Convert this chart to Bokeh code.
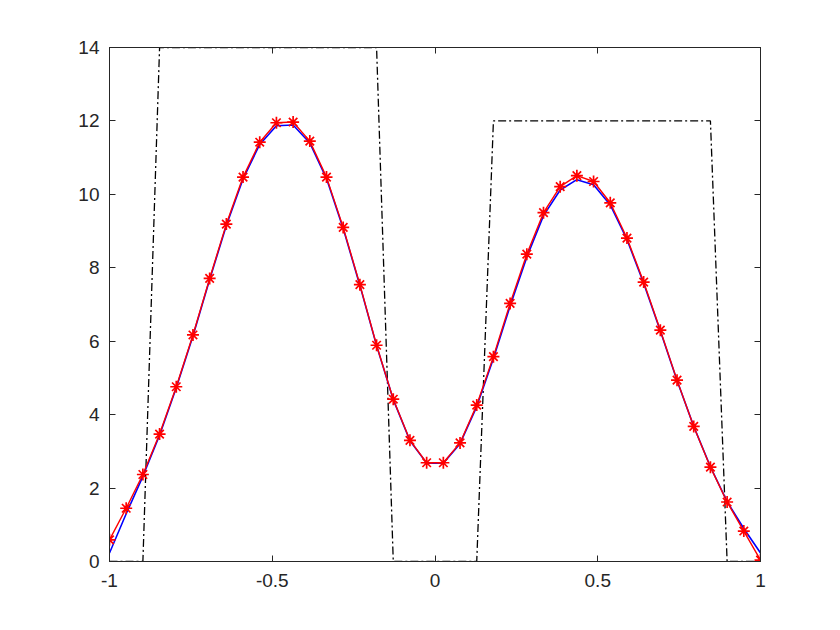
import numpy as np
from bokeh.plotting import figure
from bokeh.models import Range1d, LinearAxis, FixedTicker
from bokeh.embed import file_html
from bokeh.resources import INLINE

# sample grid (40 evenly spaced points on [-1, 1])
x = np.linspace(-1, 1, 40)

estimate = [0.59, 1.45, 2.37, 3.47, 4.76, 6.17, 7.71, 9.19, 10.47, 11.42,
            11.95, 11.97, 11.45, 10.47, 9.10, 7.54, 5.89, 4.42, 3.30, 2.69,
            2.69, 3.23, 4.26, 5.58, 7.03, 8.37, 9.50, 10.21, 10.51, 10.35,
            9.77, 8.81, 7.61, 6.30, 4.94, 3.68, 2.57, 1.62, 0.83, 0.04]

reference = [0.23, 1.30, 2.32, 3.44, 4.73, 6.14, 7.68, 9.15, 10.42, 11.36,
             11.87, 11.89, 11.40, 10.43, 9.07, 7.52, 5.88, 4.41, 3.29, 2.68,
             2.68, 3.21, 4.22, 5.53, 6.96, 8.29, 9.42, 10.12, 10.40, 10.26,
             9.71, 8.77, 7.58, 6.28, 4.93, 3.68, 2.58, 1.63, 0.90, 0.23]

step = [0, 0, 0, 14, 14, 14, 14, 14, 14, 14,
        14, 14, 14, 14, 14, 14, 14, 0, 0, 0,
        0, 0, 0, 12, 12, 12, 12, 12, 12, 12,
        12, 12, 12, 12, 12, 12, 12, 0, 0, 0]

x_ticks = [-1, -0.5, 0, 0.5, 1]
x_tick_labels = ["-1", "-0.5", "0", "0.5", "1"]
y_ticks = [0, 2, 4, 6, 8, 10, 12, 14]
y_tick_labels = ["0", "2", "4", "6", "8", "10", "12", "14"]

p = figure(frame_width=651, frame_height=514, output_backend="svg",
           toolbar_location=None, x_range=Range1d(-1, 1), y_range=Range1d(0, 14),
           min_border_left=109, min_border_top=47, min_border_right=55,
           min_border_bottom=50, background_fill_color="white",
           border_fill_color="white")
p.grid.visible = False
p.outline_line_color = "#262626"
p.outline_line_width = 1

FONT = "Liberation Sans"
TXT = "#262626"

for ax, ticks, labels in ((p.xaxis[0], x_ticks, x_tick_labels),
                          (p.yaxis[0], y_ticks, y_tick_labels)):
    ax.ticker = FixedTicker(ticks=ticks)
    ax.major_label_overrides = {t: l for t, l in zip(ticks, labels)}
    ax.major_label_text_font = FONT
    ax.major_label_text_font_size = "19px"
    ax.major_label_text_color = TXT
    ax.major_tick_in = 6
    ax.major_tick_out = 0
    ax.minor_tick_line_color = None
    ax.axis_line_color = TXT
    ax.major_tick_line_color = TXT
p.xaxis.major_label_standoff = 12
p.yaxis.major_label_standoff = 10

top = LinearAxis(ticker=FixedTicker(ticks=x_ticks), major_tick_in=6, major_tick_out=0,
                 minor_tick_line_color=None, major_label_text_color=None,
                 major_label_text_font_size="1px", axis_line_color=TXT,
                 major_tick_line_color=TXT, major_label_standoff=0)
right = LinearAxis(ticker=FixedTicker(ticks=y_ticks), major_tick_in=6, major_tick_out=0,
                   minor_tick_line_color=None, major_label_text_color=None,
                   major_label_text_font_size="1px", axis_line_color=TXT,
                   major_tick_line_color=TXT, major_label_standoff=0)
p.add_layout(top, "above")
p.add_layout(right, "right")

p.line(x, step, line_color="black", line_width=1.3, line_dash="8 3 2 3")
p.line(x, reference, line_color="#0000ff", line_width=1.6)
p.line(x, estimate, line_color="#ff0000", line_width=1.4)
p.scatter(x, estimate, marker="asterisk", size=12, line_color="#ff0000", line_width=1.7)

open("out.html", "w").write(file_html(p, INLINE))
